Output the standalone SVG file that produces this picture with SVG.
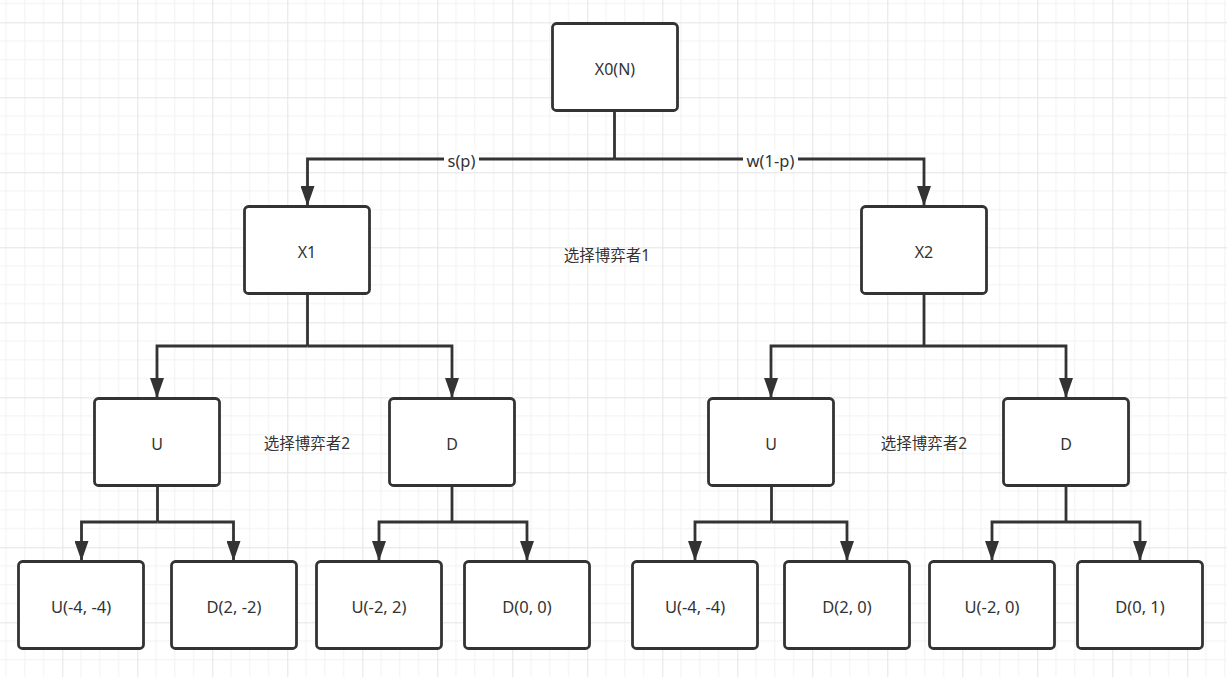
<svg xmlns="http://www.w3.org/2000/svg" width="1227" height="677" viewBox="0 0 1227 677">
<defs>
<pattern id="grid" patternUnits="userSpaceOnUse" x="-12.7" y="-52.7" width="75" height="75">
<path d="M18.75 0V75M37.5 0V75M56.25 0V75M0 18.75H75M0 37.5H75M0 56.25H75" fill="none" stroke="#f2f2f2" stroke-width="1"/>
<path d="M0.5 0V75M0 0.5H75" fill="none" stroke="#e4e4e4" stroke-width="1"/>
</pattern>
<marker id="arr" viewBox="0 0 20 14" refX="20" refY="7" markerWidth="20" markerHeight="14" markerUnits="userSpaceOnUse" orient="auto">
<path d="M0 0L20 7L0 14Z" fill="#333"/>
</marker>
</defs>
<style>
.box{fill:#fff;stroke:#333;stroke-width:2.8}
.t{font-family:"Noto Sans","Noto Sans CJK SC",sans-serif;font-size:16px;fill:#333;text-anchor:middle}
.lf{font-family:"Noto Sans","Noto Sans CJK SC",sans-serif;font-size:16.5px;fill:#333;text-anchor:middle}
.c{font-family:"Noto Sans","Noto Sans CJK SC",sans-serif;font-size:15.5px;fill:#333;text-anchor:middle}
.ln{fill:none;stroke:#333;stroke-width:2.8}
.lbl{font-family:"Noto Sans",sans-serif;font-size:16.5px;fill:#333;text-anchor:middle}
</style>
<rect width="1227" height="677" fill="#fff"/>
<rect width="1227" height="677" fill="url(#grid)"/>
<g id="connectors">
<path class="ln" d="M614.5 111V159"/>
<path class="ln" d="M614.5 159H307.5V206" marker-end="url(#arr)"/>
<path class="ln" d="M614.5 159H924V206" marker-end="url(#arr)"/>
<rect x="444" y="151" width="35" height="18" fill="#fff"/>
<text class="lbl" x="461.5" y="167">s(p)</text>
<rect x="743" y="151" width="55" height="18" fill="#fff"/>
<text class="lbl" x="770.5" y="167">w(1-p)</text>
<path class="ln" d="M307.5 293V346"/>
<path class="ln" d="M307.5 346H157V398" marker-end="url(#arr)"/>
<path class="ln" d="M307.5 346H452V398" marker-end="url(#arr)"/>
<path class="ln" d="M924 293V346"/>
<path class="ln" d="M924 346H771V398" marker-end="url(#arr)"/>
<path class="ln" d="M924 346H1066V398" marker-end="url(#arr)"/>
<path class="ln" d="M157.5 485V522"/>
<path class="ln" d="M157.5 522H81.5V561" marker-end="url(#arr)"/>
<path class="ln" d="M157.5 522H233.5V561" marker-end="url(#arr)"/>
<path class="ln" d="M452 485V522"/>
<path class="ln" d="M452 522H379V561" marker-end="url(#arr)"/>
<path class="ln" d="M452 522H527V561" marker-end="url(#arr)"/>
<path class="ln" d="M771.5 485V522"/>
<path class="ln" d="M771.5 522H695V561" marker-end="url(#arr)"/>
<path class="ln" d="M771.5 522H847V561" marker-end="url(#arr)"/>
<path class="ln" d="M1066 485V522"/>
<path class="ln" d="M1066 522H992V561" marker-end="url(#arr)"/>
<path class="ln" d="M1066 522H1140V561" marker-end="url(#arr)"/>
</g>
<g id="X0"><rect class="box" x="552.5" y="23.5" width="125" height="87" rx="4"/><text class="t" x="615" y="75">X0(N)</text></g>
<g id="X1"><rect class="box" x="244.5" y="206.5" width="125" height="87" rx="4"/><text class="t" x="307" y="258">X1</text></g>
<g id="X2"><rect class="box" x="861.5" y="206.5" width="125" height="87" rx="4"/><text class="t" x="924" y="258">X2</text></g>
<g id="label1"><text class="c" x="607" y="261">选择博弈者1</text></g>
<g id="U1"><rect class="box" x="94.5" y="398.5" width="125" height="87" rx="4"/><text class="t" x="157" y="450">U</text></g>
<g id="D1"><rect class="box" x="389.5" y="398.5" width="125" height="87" rx="4"/><text class="t" x="452" y="450">D</text></g>
<g id="label2a"><text class="c" x="307" y="449">选择博弈者2</text></g>
<g id="U2"><rect class="box" x="708.5" y="398.5" width="125" height="87" rx="4"/><text class="t" x="771" y="450">U</text></g>
<g id="D2"><rect class="box" x="1003.5" y="398.5" width="125" height="87" rx="4"/><text class="t" x="1066" y="450">D</text></g>
<g id="label2b"><text class="c" x="924" y="449">选择博弈者2</text></g>
<g id="L1"><rect class="box" x="18.5" y="561.5" width="125" height="87" rx="4"/><text class="lf" x="81" y="613">U(-4, -4)</text></g>
<g id="L2"><rect class="box" x="171.5" y="561.5" width="125" height="87" rx="4"/><text class="lf" x="234" y="613">D(2, -2)</text></g>
<g id="L3"><rect class="box" x="316.5" y="561.5" width="125" height="87" rx="4"/><text class="lf" x="379" y="613">U(-2, 2)</text></g>
<g id="L4"><rect class="box" x="464.5" y="561.5" width="125" height="87" rx="4"/><text class="lf" x="527" y="613">D(0, 0)</text></g>
<g id="L5"><rect class="box" x="632.5" y="561.5" width="125" height="87" rx="4"/><text class="lf" x="695" y="613">U(-4, -4)</text></g>
<g id="L6"><rect class="box" x="784.5" y="561.5" width="125" height="87" rx="4"/><text class="lf" x="847" y="613">D(2, 0)</text></g>
<g id="L7"><rect class="box" x="929.5" y="561.5" width="125" height="87" rx="4"/><text class="lf" x="992" y="613">U(-2, 0)</text></g>
<g id="L8"><rect class="box" x="1077.5" y="561.5" width="125" height="87" rx="4"/><text class="lf" x="1140" y="613">D(0, 1)</text></g>
</svg>
